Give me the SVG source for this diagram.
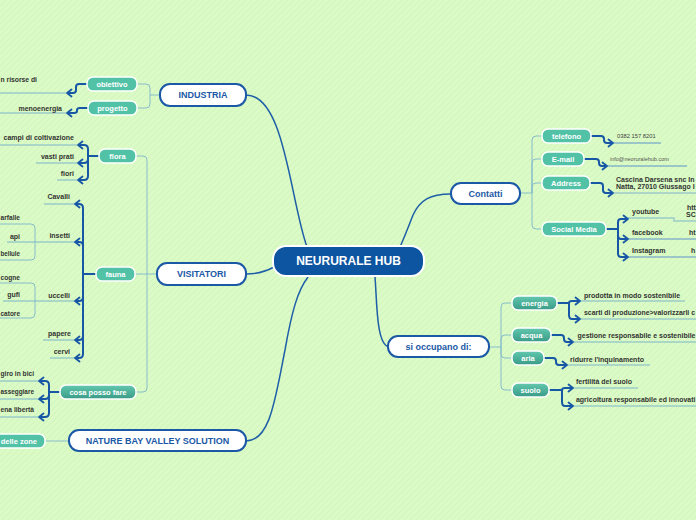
<svg xmlns="http://www.w3.org/2000/svg" width="696" height="520" viewBox="0 0 696 520">
<defs>
<pattern id="bgp" patternUnits="userSpaceOnUse" width="6" height="6">
<rect width="6" height="6" fill="#dafbc5"/>
<path d="M-1,7 L7,-1" stroke="#cdefb8" stroke-width="0.7"/>
</pattern>
<linearGradient id="gt" x1="0" y1="0" x2="0" y2="1">
<stop offset="0" stop-color="#62c8ae"/>
<stop offset="1" stop-color="#3a9b87"/>
</linearGradient>
<marker id="chev" markerUnits="userSpaceOnUse" markerWidth="10" markerHeight="10" viewBox="-6 -5 10 10" refX="0" refY="0" orient="auto">
<path d="M-4.5,-3.5 L0,0 L-4.5,3.5" fill="none" stroke="#1757a6" stroke-width="1.8" stroke-linejoin="round" stroke-linecap="round"/>
</marker>
<style>
.main rect{fill:#fff;stroke:#1b58a6;stroke-width:2}
.main text{fill:#1b58a6;font-family:"Liberation Sans",Arial,sans-serif;font-weight:bold;font-size:9px;text-anchor:middle}
.sub rect{fill:#52c2a7;stroke:#fff;stroke-width:1.5}
.sub.g rect{fill:url(#gt)}
.sub text{fill:#fff;font-family:"Liberation Sans",Arial,sans-serif;font-weight:bold;font-size:7.5px;text-anchor:middle}
.leaf{fill:#333;font-family:"Liberation Sans",Arial,sans-serif;font-weight:bold;font-size:7px}
.end{text-anchor:end}
.small{fill:#444;font-family:"Liberation Sans",Arial,sans-serif;font-size:5.8px}
.c0{fill:none;stroke:#1f5fa8;stroke-width:1.5}
.c1{fill:none;stroke:#86bccb;stroke-width:1}
.c2{fill:none;stroke:#1757a6;stroke-width:2;stroke-linejoin:round}
.ar{marker-end:url(#chev)}
.ul{fill:none;stroke:#9ccbc9;stroke-width:1.5}
.ub{fill:none;stroke:#5f93cc;stroke-width:1.2}
</style>
</defs>
<rect width="696" height="520" fill="url(#bgp)"/>

<g id="connectors">
<path class="c0" d="M246,95 C285,95 290,200 307,247"/>
<path class="c0" d="M246,274 C258,274 265,272 274,267"/>
<path class="c0" d="M246,441 C270,441 275,400 285,350 C292,310 298,290 308,277"/>
<path class="c0" d="M375,277 C377,300 376,345 389,347"/>
<path class="c0" d="M451,194 C430,194 420,200 413,215 C408,228 404,238 400,247"/>
<path class="c1" d="M160,95 H150 M150,95 V88 Q150,84 146,84 H137 M150,95 V104 Q150,108 146,108 H137"/>
<path class="c1" d="M157,274 H134 M147,274 V160 Q147,156 143,156 H135 M147,274 V388 Q147,392 143,392 H136"/>
<path class="c1" d="M69,441 H45"/>
<path class="c1" d="M520,193 H532 M532,193 V140 Q532,136 536,136 H542 M532,193 V163 Q532,159 536,159 H542 M532,193 V187 Q532,183 536,183 H542 M532,193 V225 Q532,229 536,229 H542"/>
<path class="c1" d="M489,347 H501 M501,347 V307 Q501,303 505,303 H512 M501,347 V339 Q501,335 505,335 H512 M501,347 V354 Q501,358 505,358 H512 M501,347 V386 Q501,390 505,390 H512"/>
<path class="ul" d="M0,93 H66 M0,113 H66 M0,145 H77 M36,163 H77 M57,180 H77"/>
<path class="ul" d="M44,204 H75 M7,242 H75 M3,301 H75 M43,340 H75 M50,358 H75"/>
<path class="c1" d="M0,224 H31 Q35,224 35,228 V256 Q35,260 31,260 H0"/>
<path class="c1" d="M0,283 H31 Q35,283 35,287 V314 Q35,318 31,318 H0"/>
<path class="ul" d="M0,381 H38 M0,399 H38 M0,417 H38"/>
<path class="ub" d="M613,143 H661 M607,166 H687"/>
<path class="ul" d="M613,193 H696"/>
<path class="ul" d="M628,218 H674 V221 H696"/>
<path class="ub" d="M628,239 H696 M628,257 H696"/>
<path class="ul" d="M580,301 H685 M580,319 H696 M573,342 H696 M567,365 H650 M573,388 H638 M573,406 H696"/>
<path class="c2 ar" d="M87,84 H79 Q76,84 76,87 V90 Q76,93 73,93 H67"/>
<path class="c2 ar" d="M88,108 H80 Q77,108 77,110 V111 Q77,113 74,113 H67"/>
<path class="c2" d="M99,156 H88"/>
<path class="c2 ar" d="M88,156 V149 Q88,145 84,145 H78"/>
<path class="c2 ar" d="M88,156 V159 Q88,163 84,163 H78"/>
<path class="c2 ar" d="M88,156 V176 Q88,180 84,180 H78"/>
<path class="c2" d="M96,274 H83"/>
<path class="c2 ar" d="M83,274 V208 Q83,204 79,204 H75"/>
<path class="c2 ar" d="M83,274 V246 Q83,242 79,242 H75"/>
<path class="c2 ar" d="M83,274 V297 Q83,301 79,301 H75"/>
<path class="c2 ar" d="M83,274 V336 Q83,340 79,340 H75"/>
<path class="c2 ar" d="M83,274 V354 Q83,358 79,358 H75"/>
<path class="c2" d="M60,392 H49"/>
<path class="c2 ar" d="M49,392 V385 Q49,381 45,381 H39"/>
<path class="c2 ar" d="M49,392 V395 Q49,399 45,399 H39"/>
<path class="c2 ar" d="M49,392 V413 Q49,417 45,417 H39"/>
<path class="c2 ar" d="M591,136 H601 Q604,136 604,139 V140 Q604,143 607,143 H613"/>
<path class="c2 ar" d="M584,159 H596 Q599,159 599,162 V163 Q599,166 602,166 H607"/>
<path class="c2 ar" d="M590,183 H600 Q603,183 603,186 V190 Q603,193 606,193 H613"/>
<path class="c2" d="M606,229 H618"/>
<path class="c2 ar" d="M618,229 V222 Q618,219 621,219 H628"/>
<path class="c2 ar" d="M618,229 V235 Q618,239 621,239 H628"/>
<path class="c2 ar" d="M618,229 V253 Q618,257 621,257 H628"/>
<path class="c2" d="M557,303 H569"/>
<path class="c2 ar" d="M569,303 Q569,301 572,301 H580"/>
<path class="c2 ar" d="M569,303 V315 Q569,319 572,319 H580"/>
<path class="c2 ar" d="M551,335 H561 Q564,335 564,338 V339 Q564,342 567,342 H573"/>
<path class="c2 ar" d="M544,358 H553 Q556,358 556,361 V362 Q556,365 559,365 H567"/>
<path class="c2" d="M549,390 H562"/>
<path class="c2 ar" d="M562,390 Q562,388 565,388 H573"/>
<path class="c2 ar" d="M562,390 V402 Q562,406 565,406 H573"/>
</g>

<g id="center">
<rect x="273" y="246" width="151" height="30" rx="13" fill="#0d55a1" stroke="#fff" stroke-width="2"/>
<text x="348.5" y="265.3" fill="#fff" font-family="Liberation Sans, Arial, sans-serif" font-weight="bold" font-size="12" text-anchor="middle">NEURURALE HUB</text>
</g>

<g id="industria" class="main"><rect x="160" y="84" width="86" height="22" rx="10"/><text x="203" y="98.3">INDUSTRIA</text></g>
<g id="visitatori" class="main"><rect x="157" y="263" width="89" height="22" rx="10"/><text x="201.5" y="277.3">VISITATORI</text></g>
<g id="naturebay" class="main"><rect x="69" y="430" width="177" height="21" rx="10"/><text x="157.5" y="443.8">NATURE BAY VALLEY SOLUTION</text></g>
<g id="contatti" class="main"><rect x="451" y="183" width="69" height="21" rx="10"/><text x="485.5" y="196.8">Contatti</text></g>
<g id="sioccupano" class="main"><rect x="388" y="336" width="101" height="21" rx="10"/><text x="438.5" y="349.8">si occupano di:</text></g>

<g id="obiettivo" class="sub"><rect x="87" y="77" width="50" height="14" rx="6"/><text x="112" y="86.8">obiettivo</text></g>
<g id="progetto" class="sub"><rect x="88" y="101" width="49" height="14" rx="6"/><text x="112.5" y="110.8">progetto</text></g>
<g id="flora" class="sub"><rect x="99" y="149" width="37" height="14" rx="6"/><text x="117.5" y="158.8">flora</text></g>
<g id="fauna" class="sub"><rect x="96" y="267" width="39" height="14" rx="6"/><text x="115.5" y="276.8">fauna</text></g>
<g id="cosaposso" class="sub g"><rect x="60" y="385" width="76" height="14" rx="6"/><text x="98" y="394.8">cosa posso fare</text></g>
<g id="dellezone" class="sub"><rect x="-40" y="434" width="85" height="14" rx="6"/><text x="37" y="443.8" style="text-anchor:end">delle zone</text></g>

<g id="telefono" class="sub"><rect x="542" y="129" width="49" height="14" rx="6"/><text x="566.5" y="138.8">telefono</text></g>
<g id="email" class="sub"><rect x="542" y="152" width="42" height="14" rx="6"/><text x="563" y="161.8">E-mail</text></g>
<g id="address" class="sub"><rect x="542" y="176" width="48" height="14" rx="6"/><text x="566" y="185.8">Address</text></g>
<g id="social" class="sub"><rect x="542" y="222" width="64" height="14" rx="6"/><text x="574" y="231.8">Social Media</text></g>
<g id="energia" class="sub g"><rect x="512" y="296" width="45" height="14" rx="6"/><text x="534.5" y="305.8">energia</text></g>
<g id="acqua" class="sub g"><rect x="512" y="328" width="39" height="14" rx="6"/><text x="531.5" y="337.8">acqua</text></g>
<g id="aria" class="sub g"><rect x="512" y="351" width="32" height="14" rx="6"/><text x="528" y="360.8">aria</text></g>
<g id="suolo" class="sub g"><rect x="512" y="383" width="37" height="14" rx="6"/><text x="530.5" y="392.8">suolo</text></g>

<g id="leaves-left">
<text class="leaf" x="0.5" y="81.5" textLength="36.5" lengthAdjust="spacingAndGlyphs">n risorse di</text>
<text class="leaf end" x="62" y="110.5">menoenergia</text>
<text class="leaf end" x="74" y="139.5">campi di coltivazione</text>
<text class="leaf end" x="74" y="158.5">vasti prati</text>
<text class="leaf end" x="74" y="175.5">fiori</text>
<text class="leaf end" x="70" y="198.5">Cavalli</text>
<text class="leaf end" x="70" y="237.5">insetti</text>
<text class="leaf" x="0.5" y="219.5" textLength="19.5" lengthAdjust="spacingAndGlyphs">arfalle</text>
<text class="leaf end" x="20" y="238.5">api</text>
<text class="leaf" x="0.5" y="255.5" textLength="19.5" lengthAdjust="spacingAndGlyphs">bellule</text>
<text class="leaf end" x="70" y="297.5">uccelli</text>
<text class="leaf" x="0.5" y="279.5" textLength="19.5" lengthAdjust="spacingAndGlyphs">cogne</text>
<text class="leaf end" x="20" y="296.5">gufi</text>
<text class="leaf" x="0.5" y="315.5" textLength="19.5" lengthAdjust="spacingAndGlyphs">catore</text>
<text class="leaf end" x="71" y="335.5">papere</text>
<text class="leaf end" x="70" y="353.5">cervi</text>
<text class="leaf" x="0.5" y="375.5" textLength="33.5" lengthAdjust="spacingAndGlyphs">giro in bici</text>
<text class="leaf" x="0.5" y="393.5" textLength="33.5" lengthAdjust="spacingAndGlyphs">asseggiare</text>
<text class="leaf" x="0.5" y="411.5" textLength="33.5" lengthAdjust="spacingAndGlyphs">ena libertà</text>
</g>

<g id="leaves-right">
<text class="small" x="617" y="138">0382 157 8201</text>
<text class="small" x="610" y="161" style="font-size:5.5px;fill:#555">info@neoruralehub.com</text>
<text class="leaf" x="616" y="181.5">Cascina Darsena snc In</text>
<text class="leaf" x="616" y="188.5">Natta, 27010 Giussago I</text>
<text class="leaf" x="632" y="213.5">youtube</text>
<text class="leaf" x="687" y="209.5">htt</text>
<text class="leaf" x="686" y="216.5">SC</text>
<text class="leaf" x="632" y="234.5">facebook</text>
<text class="leaf" x="689" y="234.5">ht</text>
<text class="leaf" x="632" y="252.5">Instagram</text>
<text class="leaf" x="691" y="252.5">h</text>
<text class="leaf" x="584" y="297.5">prodotta in modo sostenibile</text>
<text class="leaf" x="584" y="314.5" textLength="111" lengthAdjust="spacingAndGlyphs">scarti di produzione&gt;valorizzarli c</text>
<text class="leaf" x="577.5" y="337.5" textLength="118" lengthAdjust="spacingAndGlyphs">gestione responsabile e sostenibile</text>
<text class="leaf" x="570" y="361.5">ridurre l'inquinamento</text>
<text class="leaf" x="576" y="383.5">fertilità del suolo</text>
<text class="leaf" x="576" y="401.5" textLength="119.5" lengthAdjust="spacingAndGlyphs">agricoltura responsabile ed innovati</text>
</g>
</svg>
